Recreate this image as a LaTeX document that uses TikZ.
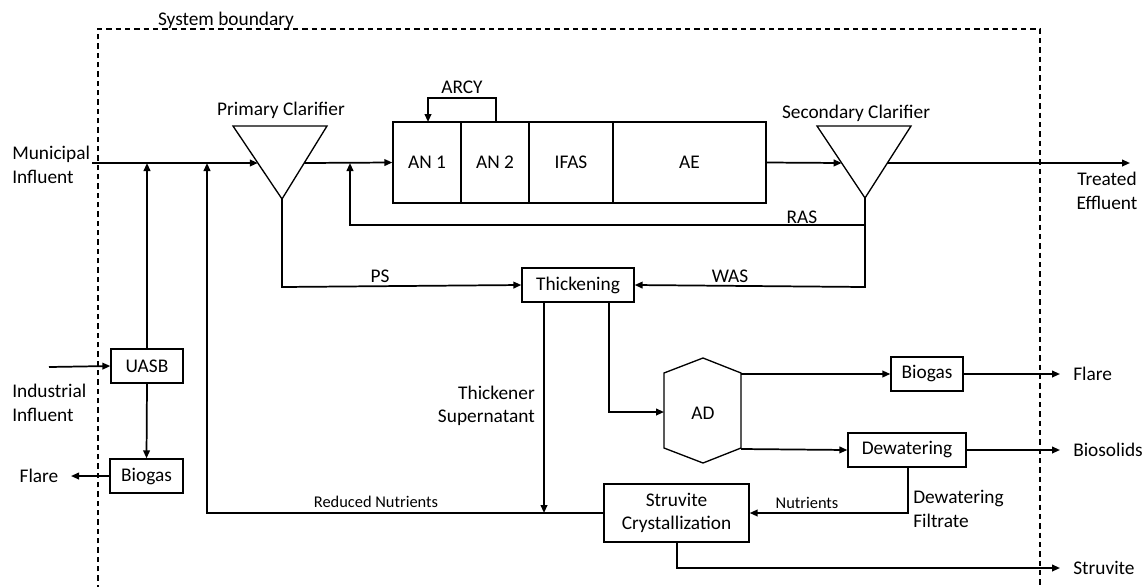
\documentclass[tikz,border=0pt]{standalone}
\usepackage{fontspec}
\setmainfont{Carlito}
\usetikzlibrary{arrows.meta}
\begin{document}
\begin{tikzpicture}[x=0.75pt,y=-0.75pt,
  flow/.style={-{Triangle[length=6pt,width=5pt]}, line width=1.3pt},
  unit/.style={draw, line width=1pt, inner sep=0pt, font=\fontsize{14.5}{17.5}\selectfont},
  lbl/.style={inner sep=0pt, font=\fontsize{14.5}{17.5}\selectfont},
  slbl/.style={inner sep=0pt, font=\fontsize{12.3}{14}\selectfont},
  bound/.style={line width=0.8pt, dash pattern=on 4pt off 3pt}
]
\useasboundingbox (0,0) rectangle (1144,586);
% system boundary
\coordinate (bl) at (98,590);
\coordinate (tl) at (98,29);
\coordinate (tr) at (1040,29);
\coordinate (br) at (1040,590);
\draw[bound] (bl) -- (tl) -- (tr) -- (br);
\node[lbl] (sysb) at (226,20) {System boundary};

% primary clarifier
\coordinate (p1) at (233,126);
\coordinate (p2) at (327,126);
\coordinate (pc) at (282,199);
\coordinate (pin) at (257.8,163);
\coordinate (pout) at (304.2,163);
\draw[line width=1pt] (p1) -- (p2) -- (pc) -- cycle;
\node[lbl] (pclab) at (281,110) {Primary Clarifier};

% secondary clarifier
\coordinate (s1) at (817,126);
\coordinate (s2) at (911,126);
\coordinate (sc) at (865,198);
\coordinate (sin) at (841.7,163);
\coordinate (sout) at (887.4,163);
\draw[line width=1pt] (s1) -- (s2) -- (sc) -- cycle;
\node[lbl] (sclab) at (856,113) {Secondary Clarifier};

% reactor
\node[unit, minimum width=51pt, minimum height=60.75pt] (an1) at (427,162.5) {AN 1};
\node[unit, minimum width=51pt, minimum height=60.75pt] (an2) at (495,162.5) {AN 2};
\node[unit, minimum width=63pt, minimum height=60.75pt] (ifas) at (571,162.5) {IFAS};
\node[unit, minimum width=114.75pt, minimum height=60.75pt] (ae) at (689.5,162.5) {AE};
\coordinate (arcyA) at (496,122);
\coordinate (arcyB) at (428,122);
\draw[flow] (arcyA) -- (496,98) -- (428,98) -- (arcyB);
\node[lbl] (arcy) at (462,87) {ARCY};

% boxes
\node[unit, minimum width=84pt, minimum height=25.5pt] (thick) at (578,285) {Thickening};
\node[unit, minimum width=54pt, minimum height=25.5pt] (uasb) at (147,366) {UASB};
\node[unit, minimum width=54.75pt, minimum height=25.5pt] (biogasL) at (146.5,476) {Biogas};
\node[unit, minimum width=54pt, minimum height=25.5pt] (biogasR) at (927,374) {Biogas};
\node[unit, minimum width=88.5pt, minimum height=25.5pt] (dew) at (907,450) {Dewatering};
\node[unit, minimum width=108.75pt, minimum height=43.5pt, align=center] (struv) at (676.5,513) {Struvite\\Crystallization};

% AD
\draw[line width=1pt] (664,373) -- (703,358) -- (741,373) -- (741,448) -- (703,463) -- (664,448) -- cycle;
\node[lbl] (ad) at (703,413) {AD};
\coordinate (adin) at (664,412);
\coordinate (adg) at (741,374);
\coordinate (ads) at (741,449);

% external labels
\node[lbl, anchor=west, align=left] (muni) at (12,165) {Municipal\\Influent};
\node[lbl, anchor=west, align=left] (indu) at (12,403) {Industrial\\Influent};
\node[lbl] (flareL) at (39,476) {Flare};
\node[lbl, align=center] (treated) at (1107,191) {Treated\\Effluent};
\node[lbl, anchor=west] (flareR) at (1073,374) {Flare};
\node[lbl, anchor=west] (bios) at (1073,450) {Biosolids};
\node[lbl, anchor=west] (struvout) at (1073,568) {Struvite};
\node[lbl, anchor=east, align=right] (supern) at (535,406) {Thickener\\Supernatant};
\node[lbl, anchor=west, align=left] (filtr) at (913,509) {Dewatering\\Filtrate};
\node[lbl] (ras) at (802,217) {RAS};
\node[lbl] (ps) at (380,276) {PS};
\node[lbl] (was) at (730,276) {WAS};
\node[slbl] (rednut) at (376,502) {Reduced Nutrients};
\node[slbl] (nut) at (807,503) {Nutrients};

% coordinates for connectors
\coordinate (muniS) at (92,163);
\coordinate (j1) at (147,163);
\coordinate (j2) at (207,163);
\coordinate (j3) at (350,163);
\coordinate (rasJ) at (865,225);
\coordinate (treatE) at (1130,163);
\coordinate (indS) at (49,367);
\coordinate (flareLT) at (71,476);
\coordinate (flareRT) at (1060,374);
\coordinate (biosT) at (1060,450);
\coordinate (struvT) at (1060,568);
\coordinate (supJ) at (544,513);

% main line
\draw[flow] (muniS) -- (pin);
\draw[flow] (pout) -- (an1.west);
\draw[flow] (ae.east) -- (sin);
\draw[flow] (sout) -- (treatE);
% UASB
\draw[flow] (indS) -- (uasb.west);
\draw[flow] (uasb.north) -- (j1);
\draw[flow] (uasb.south) -- (biogasL.north);
\draw[flow] (biogasL.west) -- (flareLT);
% RAS / WAS / PS
\draw[flow] (sc) -- (rasJ) -- (350,225) -- (j3);
\draw[flow] (rasJ) -- (865,287) -- (thick.east);
\draw[flow] (pc) -- (282,287) -- (thick.west);
% thickening
\draw[flow] (544,302) -- (supJ);
\draw[flow] (609,302) -- (609,412) -- (adin);
% AD
\draw[flow] (adg) -- (biogasR.west);
\draw[flow] (biogasR.east) -- (flareRT);
\draw[flow] (ads) -- (dew.west);
\draw[flow] (dew.east) -- (biosT);
\draw[flow] (908,467) -- (908,513) -- (struv.east);
% struvite
\draw[flow] (struv.west) -- (207,513) -- (j2);
\draw[flow] (677,542) -- (677,568) -- (struvT);
\end{tikzpicture}
\end{document}
